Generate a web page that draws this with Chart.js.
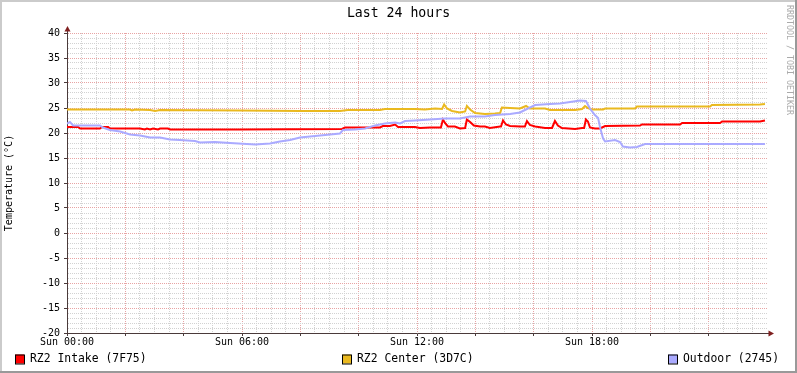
<!DOCTYPE html>
<html>
<head>
<meta charset="utf-8">
<script src="https://cdn.jsdelivr.net/npm/chart.js@4/dist/chart.umd.min.js"></script>
<style>
  html, body { margin: 0; padding: 0; background: #ffffff; }
  #wrap { width: 797px; height: 373px; position: relative; }
</style>
</head>
<body>
<div id="wrap"><canvas id="c" width="797" height="373"></canvas></div>
<script>
// ---- data (time in hours since Sun 00:00, temperature in °C) ----
const chartTitle = 'Last 24 hours';
const yAxisTitle = 'Temperature (°C)';
const watermark = 'RRDTOOL / TOBI OETIKER';
const seriesNames = ['RZ2 Intake (7F75)', 'RZ2 Center (3D7C)', 'Outdoor (2745)'];
const seriesColors = ['#FF0000', '#EAB91F', '#AAAAFF'];
const xTickLabels = ['Sun 00:00', 'Sun 06:00', 'Sun 12:00', 'Sun 18:00'];

const intakeHours = [0,0.38,0.45,1.13,1.20,1.41,1.47,2.50,2.67,2.74,2.85,2.95,3.12,3.19,3.46,3.53,5.93,9.43,9.53,10.73,10.83,11.07,11.25,11.35,11.93,12.10,12.45,12.82,12.89,12.96,13.06,13.30,13.47,13.65,13.68,13.71,13.82,13.95,14.16,14.33,14.50,14.85,14.88,14.95,15.05,15.19,15.53,15.70,15.77,15.87,16.05,16.39,16.63,16.66,16.73,16.83,16.97,17.42,17.66,17.73,17.79,17.86,17.93,18.10,18.27,18.38,18.45,19.65,19.71,21.02,21.09,22.39,22.46,23.76,23.93];
const intakeTemps = [21.2,21.2,20.9,20.9,21.2,21.2,20.9,20.9,20.7,20.9,20.7,20.9,20.7,20.9,20.9,20.7,20.7,20.8,21.1,21.1,21.4,21.4,21.7,21.2,21.2,21.0,21.1,21.1,22.7,22.0,21.3,21.3,20.9,21.0,21.0,22.7,22.2,21.5,21.3,21.3,21.0,21.3,21.3,22.5,21.7,21.4,21.3,21.3,22.4,21.6,21.3,21.0,21.0,21.0,22.4,21.5,21.0,20.8,21.0,21.0,22.7,22.3,21.1,20.9,20.9,21.2,21.4,21.5,21.7,21.7,22.0,22.0,22.3,22.3,22.5];

const centerHours = [0,2.16,2.23,2.33,2.85,3.02,3.19,5.93,7.99,9.36,9.63,10.73,10.90,11.93,12.27,12.62,12.86,12.93,13.03,13.20,13.47,13.65,13.71,13.82,13.99,14.33,14.67,14.85,14.91,15.19,15.53,15.74,15.87,16.39,16.56,17.42,17.66,17.76,17.86,18.00,18.38,18.45,19.47,19.54,22.05,22.11,23.76,23.93];
const centerTemps = [24.7,24.7,24.5,24.7,24.6,24.4,24.6,24.5,24.4,24.4,24.6,24.6,24.8,24.8,24.7,24.9,24.8,25.7,24.9,24.4,24.1,24.3,25.4,24.7,24.0,23.8,23.9,24.0,25.1,25.0,24.9,25.4,24.9,24.9,24.6,24.6,24.8,25.4,25.0,24.7,24.7,24.9,24.9,25.3,25.3,25.6,25.7,25.8];

const outdoorHours = [0,0.10,0.21,1.13,1.23,1.47,1.82,2.16,2.50,2.85,3.19,3.53,3.87,4.39,4.56,5.07,5.59,6.45,6.96,7.30,7.65,7.99,8.33,8.85,9.36,9.46,9.87,10.22,10.56,10.90,11.25,11.42,11.59,11.93,12.45,12.96,13.47,13.82,14.33,14.67,15.19,15.53,15.70,16.05,16.56,16.90,17.25,17.59,17.79,17.93,18.10,18.21,18.27,18.38,18.45,18.79,18.96,19.06,19.30,19.54,19.82,23.93];
const outdoorTemps = [21.9,22.2,21.5,21.5,21.1,20.6,20.3,19.7,19.5,19.1,19.1,18.7,18.6,18.4,18.1,18.2,18.0,17.7,17.9,18.3,18.6,19.1,19.3,19.6,19.9,20.6,20.7,20.9,21.5,21.9,22.1,21.9,22.4,22.5,22.7,22.9,22.9,23.3,23.3,23.6,23.8,24.1,24.6,25.6,25.8,25.9,26.2,26.5,26.4,24.9,23.6,23.0,21.3,18.9,18.3,18.6,18.2,17.3,17.1,17.2,17.8,17.8];

// ---- build ----
const toPoints = (hs, vs) => hs.map((h, i) => ({ x: h, y: vs[i] }));
const MONO = "'DejaVu Sans Mono', 'Liberation Mono', monospace";
const MAJOR_GRID = '#E8A4A4';
const MINOR_GRID = '#D2D2D2';
const AXIS_COLOR = '#4a3a3a';
const ARROW_COLOR = '#7f1f1f';

const extrasPlugin = {
  id: 'extras',
  beforeDraw(chart) {
    const ctx = chart.ctx;
    ctx.save();
    ctx.fillStyle = '#ffffff';
    ctx.fillRect(0, 0, chart.width, chart.height);
    ctx.restore();
  },
  afterDraw(chart) {
    const ctx = chart.ctx;
    const a = chart.chartArea;
    const W = chart.width, H = chart.height;
    ctx.save();
    // axis extensions + arrows
    ctx.strokeStyle = AXIS_COLOR;
    ctx.lineWidth = 1;
    ctx.beginPath();
    ctx.moveTo(a.left + 0.5, a.top + 0.5);
    ctx.lineTo(a.left + 0.5, a.top - 2);
    ctx.moveTo(a.right, a.bottom + 0.5);
    ctx.lineTo(a.right + 2, a.bottom + 0.5);
    ctx.stroke();
    ctx.fillStyle = ARROW_COLOR;
    ctx.beginPath();
    ctx.moveTo(a.left + 0.5, a.top - 7);
    ctx.lineTo(a.left - 2.5, a.top - 1.5);
    ctx.lineTo(a.left + 3.5, a.top - 1.5);
    ctx.closePath();
    ctx.fill();
    ctx.beginPath();
    ctx.moveTo(a.right + 7, a.bottom + 0.5);
    ctx.lineTo(a.right + 1.5, a.bottom - 2.5);
    ctx.lineTo(a.right + 1.5, a.bottom + 3.5);
    ctx.closePath();
    ctx.fill();

    // title
    ctx.fillStyle = '#000';
    ctx.font = '13.2px ' + MONO;
    ctx.textAlign = 'center';
    ctx.textBaseline = 'middle';
    ctx.fillText(chartTitle, W / 2, 14);

    // watermark
    ctx.save();
    ctx.translate(789, 60);
    ctx.rotate(Math.PI / 2);
    ctx.fillStyle = '#aaaaaa';
    ctx.font = '8.3px ' + MONO;
    ctx.textAlign = 'center';
    ctx.textBaseline = 'middle';
    ctx.fillText(watermark, 0, 0);
    ctx.restore();

    // legend
    const legendX = [15, 342, 668];
    ctx.font = '11.4px ' + MONO;
    ctx.textAlign = 'left';
    ctx.textBaseline = 'middle';
    chart.data.datasets.forEach((ds, i) => {
      const x = legendX[i], y = 354.5;
      ctx.fillStyle = ds.borderColor;
      ctx.fillRect(x, y, 9, 9);
      ctx.strokeStyle = '#000';
      ctx.lineWidth = 1;
      ctx.strokeRect(x + 0.5, y + 0.5, 9, 9);
      ctx.fillStyle = '#000';
      ctx.fillText(ds.label, x + 15, 359);
    });

    // frame
    ctx.fillStyle = '#CBCBCB';
    ctx.fillRect(0, 0, W, 2);
    ctx.fillRect(0, 0, 2, H);
    ctx.fillStyle = '#999999';
    ctx.fillRect(0, H - 2, W, 2);
    ctx.fillRect(W - 2, 0, 2, H);
    ctx.restore();
  }
};

new Chart(document.getElementById('c'), {
  type: 'line',
  data: {
    datasets: [
      { label: seriesNames[0], data: toPoints(intakeHours, intakeTemps), borderColor: seriesColors[0], backgroundColor: seriesColors[0], order: 2 },
      { label: seriesNames[1], data: toPoints(centerHours, centerTemps), borderColor: seriesColors[1], backgroundColor: seriesColors[1], order: 1 },
      { label: seriesNames[2], data: toPoints(outdoorHours, outdoorTemps), borderColor: seriesColors[2], backgroundColor: seriesColors[2], order: 0 }
    ]
  },
  options: {
    responsive: false,
    animation: false,
    devicePixelRatio: 1,
    layout: { padding: { left: 0, right: 30, top: 33, bottom: 20 } },
    elements: {
      line: { borderWidth: 2, tension: 0 },
      point: { radius: 0, hoverRadius: 0 }
    },
    plugins: {
      legend: { display: false },
      title: { display: false },
      tooltip: { enabled: false }
    },
    scales: {
      x: {
        type: 'linear',
        min: 0,
        max: 24,
        afterFit: s => { s.height = 20; },
        ticks: {
          stepSize: 0.5,
          autoSkip: false,
          maxRotation: 0,
          padding: 0,
          color: '#000',
          font: { family: MONO, size: 10 },
          callback: v => (v % 6 === 0 && v < 24) ? xTickLabels[v / 6] : ''
        },
        grid: {
          color: c => (c.tick && c.tick.value >= 24) ? 'transparent' : (c.tick && c.tick.value % 2 === 0 ? MAJOR_GRID : MINOR_GRID),
          lineWidth: 1,
          tickLength: 3,
          tickColor: c => (c.tick && c.tick.value % 2 === 0 && c.tick.value < 24) ? AXIS_COLOR : 'transparent'
        },
        border: { display: true, color: AXIS_COLOR, width: 1, dash: [1, 1] }
      },
      y: {
        type: 'linear',
        min: -20,
        max: 40,
        afterFit: s => { s.width = 67; },
        ticks: {
          stepSize: 1,
          autoSkip: false,
          padding: 4,
          color: '#000',
          font: { family: MONO, size: 10 },
          callback: v => (v % 5 === 0) ? String(v) : ''
        },
        grid: {
          color: c => (c.tick && c.tick.value % 5 === 0) ? MAJOR_GRID : MINOR_GRID,
          lineWidth: 1,
          tickLength: 3,
          tickColor: c => (c.tick && c.tick.value % 5 === 0) ? AXIS_COLOR : 'transparent'
        },
        border: { display: true, color: AXIS_COLOR, width: 1, dash: [1, 1] },
        title: {
          display: true,
          text: yAxisTitle,
          color: '#000',
          font: { family: MONO, size: 10 },
          padding: { top: 3.5, bottom: 0 }
        }
      }
    }
  },
  plugins: [extrasPlugin]
});
</script>
</body>
</html>
